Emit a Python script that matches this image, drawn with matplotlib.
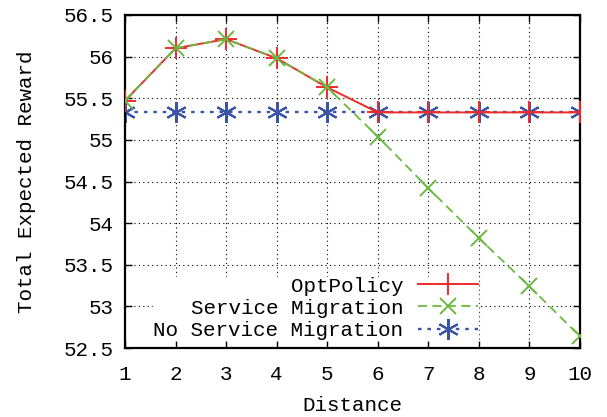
import matplotlib
matplotlib.use('Agg')
import matplotlib.pyplot as plt

distance = [1, 2, 3, 4, 5, 6, 7, 8, 9, 10]
opt_policy = [55.47, 56.10, 56.21, 55.98, 55.63, 55.33, 55.33, 55.33, 55.33, 55.33]
service_migration = [55.47, 56.10, 56.21, 55.98, 55.63, 55.04, 54.42, 53.82, 53.24, 52.64]
no_migration = [55.33, 55.33, 55.33, 55.33, 55.33, 55.33, 55.33, 55.33, 55.33, 55.33]
yticks = [52.5, 53, 53.5, 54, 54.5, 55, 55.5, 56, 56.5]
ytick_labels = ['52.5', '53', '53.5', '54', '54.5', '55', '55.5', '56', '56.5']

plt.rcParams['font.family'] = ['Liberation Mono', 'DejaVu Sans Mono']
plt.rcParams['font.size'] = 15

fig = plt.figure(figsize=(6.07, 4.17), dpi=100)
ax = fig.add_axes([125 / 607, 1 - 348 / 417, 455 / 607, 333 / 417])

ax.plot(distance, opt_policy, color='#ee2b2b', linestyle='-', linewidth=1.4,
        marker='+', markersize=16, markeredgewidth=1.4, label='OptPolicy', zorder=3)
ax.plot(distance, service_migration, color='#6cb840', linestyle=(0, (5, 3)), linewidth=1.3,
        marker='x', markersize=12, markeredgewidth=1.4, label='Service Migration', zorder=4)
ax.plot(distance, no_migration, color='#3a55a8', linestyle=(0, (1.5, 2.5)), linewidth=1.7,
        marker=(6, 2, 0), markersize=15, markeredgewidth=1.5, label='No Service Migration', zorder=2)

ax.set_xlim(1, 10)
ax.set_ylim(52.5, 56.5)
ax.set_xticks(distance)
ax.set_yticks(yticks)
ax.set_yticklabels(ytick_labels)
ax.grid(True, color='black', linestyle=(0, (1, 3)), linewidth=0.8)
ax.tick_params(direction='in', top=True, right=True, length=5, width=1)
ax.tick_params(axis='x', pad=12)
ax.tick_params(axis='y', pad=8)
for s in ax.spines.values():
    s.set_linewidth(1.6)

ax.set_xlabel('Distance', labelpad=9)
ax.set_ylabel('Total Expected Reward', labelpad=20)

leg = ax.legend(loc='lower right', bbox_to_anchor=(0.785, 0.012), markerfirst=False,
                frameon=True, framealpha=1, edgecolor='white', fancybox=False,
                handlelength=2.9, handletextpad=0.7, labelspacing=0.15,
                borderpad=0.0, borderaxespad=0.2)
leg.set_zorder(5)

fig.savefig('out.png', dpi=100)
